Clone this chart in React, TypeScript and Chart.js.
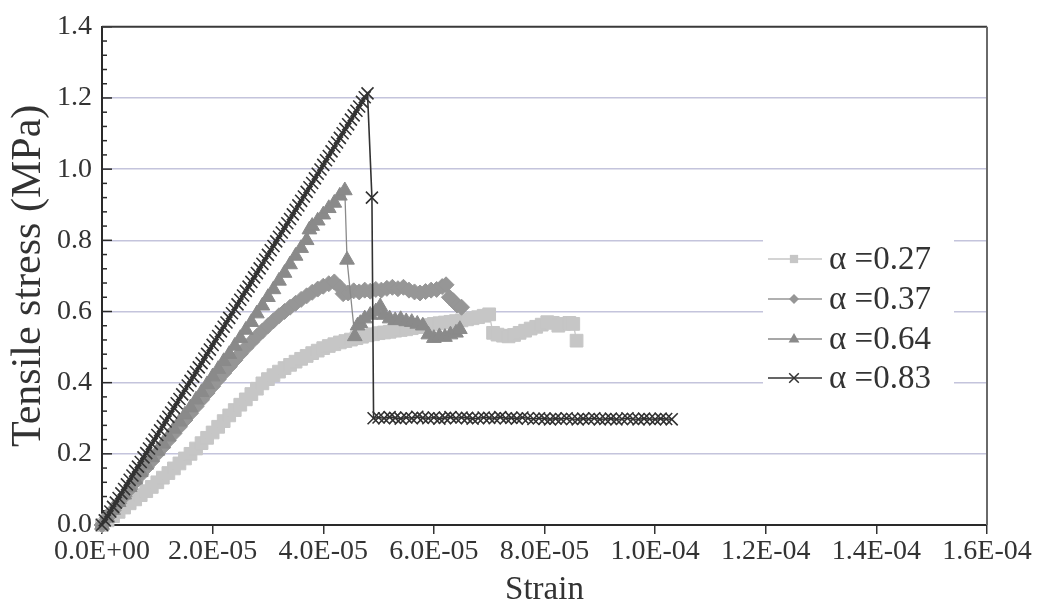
import React, { useEffect, useRef } from "react";
import { Chart, registerables } from "chart.js";
Chart.register(...registerables);

// ---- Data (strain in microstrain units, ×1e-6; stress in MPa) ----
const seriesLabels = ["α =0.27", "α =0.37", "α =0.64", "α =0.83"];

const strain027 = [
  0, 1, 2, 3, 4, 5, 6, 7, 8, 9, 10, 11, 12, 13, 14, 15, 16, 17, 18, 19, 20, 21, 22, 23, 24, 25, 26, 27, 28, 29,
  30, 31, 32, 33, 34, 35, 36, 37, 38, 39, 40, 41, 42, 43, 44, 45, 46, 47, 48, 49, 50, 51, 52, 53, 54, 55, 56, 57, 58, 59,
  60, 61, 62, 63, 64, 65, 66, 67, 68, 69, 70,
  70.7, 71.5, 72.5, 73.5, 74.5, 75.5, 76.5, 77.5, 78.5, 79.5, 80.5, 81.5, 82.5, 83.5, 84.5, 85.2, 85.8,
];
const stress027 = [
  0, 0.013, 0.025, 0.037, 0.049, 0.061, 0.072, 0.084, 0.095, 0.107,
  0.12, 0.133, 0.146, 0.159, 0.173, 0.187, 0.2, 0.215, 0.23, 0.245,
  0.26, 0.276, 0.292, 0.308, 0.323, 0.338, 0.353, 0.368, 0.383, 0.398,
  0.41, 0.421, 0.431, 0.441, 0.45, 0.459, 0.467, 0.475, 0.483, 0.49,
  0.497, 0.503, 0.508, 0.513, 0.517, 0.521, 0.525, 0.529, 0.533, 0.536,
  0.539, 0.541, 0.543, 0.546, 0.548, 0.55, 0.553, 0.556, 0.558, 0.562,
  0.565, 0.567, 0.569, 0.571, 0.573, 0.575, 0.578, 0.581, 0.584, 0.588,
  0.592,
  0.54, 0.535, 0.532, 0.53, 0.534, 0.54, 0.546, 0.552, 0.557, 0.563, 0.57, 0.568, 0.56, 0.565, 0.568, 0.565, 0.518,
];

const strain037 = [
  0, 1, 2, 3, 4, 5, 6, 7, 8, 9, 10, 11, 12, 13, 14, 15, 16, 17, 18, 19, 20, 21, 22, 23, 24, 25, 26, 27, 28, 29,
  30, 31, 32, 33, 34, 35, 36, 37, 38, 39, 40, 41, 42,
  43, 43.6,
  44.5, 45.5, 46.5, 47.5, 48.5, 49.5, 50.5, 51.5, 52.5, 53.5, 54.5, 55.5, 56.5, 57.5, 58.5, 59.5, 60.5, 61.5,
  62.2, 62.8, 63.5, 64.2, 65,
];
const stress037 = [
  0, 0.021, 0.041, 0.061, 0.081, 0.101, 0.121, 0.141, 0.161, 0.18,
  0.2, 0.219, 0.238, 0.257, 0.276, 0.295, 0.314, 0.333, 0.352, 0.371,
  0.39, 0.409, 0.427, 0.445, 0.463, 0.481, 0.498, 0.514, 0.53, 0.545,
  0.56, 0.574, 0.588, 0.6, 0.612, 0.623, 0.634, 0.644, 0.654, 0.663,
  0.671, 0.678, 0.683,
  0.668, 0.65,
  0.652, 0.658, 0.655, 0.66, 0.657, 0.662, 0.66, 0.665, 0.668, 0.664, 0.668, 0.66, 0.655, 0.652, 0.656, 0.66, 0.662, 0.67,
  0.675, 0.64, 0.63, 0.618, 0.612,
];

const strain064 = [
  0, 1, 2, 3, 4, 5, 6, 7, 8, 9, 10, 11, 12, 13, 14, 15, 16, 17, 18, 19, 20, 21, 22, 23, 24, 25, 26, 27, 28, 29,
  30, 31, 32, 33, 34, 35, 36, 37, 37.5, 38, 39, 40, 41, 42, 43, 43.9,
  44.3, 45.7, 46.2, 46.7, 47.5, 48.5, 49.5, 50.3,
  51, 52, 53, 54, 55, 56, 57, 58, 59, 60, 61, 62, 63, 64, 64.7,
];
const stress064 = [
  0, 0.02, 0.042, 0.064, 0.085, 0.106, 0.127, 0.148, 0.169, 0.19,
  0.208, 0.228, 0.248, 0.27, 0.29, 0.31, 0.33, 0.352, 0.373, 0.395,
  0.417, 0.438, 0.46, 0.48, 0.503, 0.525, 0.548, 0.57, 0.594, 0.616,
  0.64, 0.662, 0.686, 0.708, 0.732, 0.756, 0.778, 0.8, 0.83, 0.84, 0.855, 0.872, 0.89, 0.905, 0.925, 0.94,
  0.745, 0.53, 0.56, 0.567, 0.58, 0.59, 0.6, 0.614,
  0.59, 0.58, 0.575, 0.578, 0.572, 0.57, 0.565, 0.56, 0.535, 0.525, 0.53, 0.528, 0.535, 0.54, 0.55,
];

const strain083 = [
  0, 0.5, 1, 1.5, 2, 2.5, 3, 3.5, 4, 4.5, 5, 5.5, 6, 6.5, 7, 7.5, 8, 8.5, 9, 9.5,
  10, 10.5, 11, 11.5, 12, 12.5, 13, 13.5, 14, 14.5, 15, 15.5, 16, 16.5, 17, 17.5, 18, 18.5, 19, 19.5,
  20, 20.5, 21, 21.5, 22, 22.5, 23, 23.5, 24, 24.5, 25, 25.5, 26, 26.5, 27, 27.5, 28, 28.5, 29, 29.5,
  30, 30.5, 31, 31.5, 32, 32.5, 33, 33.5, 34, 34.5, 35, 35.5, 36, 36.5, 37, 37.5, 38, 38.5, 39, 39.5,
  40, 40.5, 41, 41.5, 42, 42.5, 43, 43.5, 44, 44.5, 45, 45.5, 46, 46.5, 47, 47.5, 48,
  48.8, 49.1,
  50, 51, 52, 53, 54, 55, 56, 57, 58, 59, 60, 61, 62, 63, 64, 65, 66, 67, 68, 69,
  70, 71, 72, 73, 74, 75, 76, 77, 78, 79, 80, 81, 82, 83, 84, 85, 86, 87, 88, 89,
  90, 91, 92, 93, 94, 95, 96, 97, 98, 99, 100, 101, 102, 103,
];
const stress083 = [
  0, 0.013, 0.025, 0.038, 0.051, 0.063, 0.076, 0.089, 0.101, 0.114, 0.127, 0.139, 0.152, 0.164, 0.177, 0.19, 0.202, 0.215, 0.228, 0.24,
  0.253, 0.266, 0.278, 0.291, 0.304, 0.316, 0.329, 0.342, 0.354, 0.367, 0.38, 0.392, 0.405, 0.417, 0.43, 0.443, 0.455, 0.468, 0.481, 0.493,
  0.506, 0.519, 0.531, 0.544, 0.557, 0.569, 0.582, 0.595, 0.607, 0.62, 0.633, 0.645, 0.658, 0.67, 0.683, 0.696, 0.708, 0.721, 0.734, 0.746,
  0.759, 0.772, 0.784, 0.797, 0.81, 0.822, 0.835, 0.848, 0.86, 0.873, 0.886, 0.898, 0.911, 0.923, 0.936, 0.949, 0.961, 0.974, 0.987, 0.999,
  1.012, 1.025, 1.037, 1.05, 1.063, 1.075, 1.088, 1.101, 1.113, 1.126, 1.139, 1.151, 1.164, 1.176, 1.189, 1.202, 1.213,
  0.92, 0.3,
  0.302, 0.3, 0.303, 0.301, 0.299, 0.302, 0.3, 0.304, 0.301, 0.3, 0.302, 0.299, 0.301, 0.303, 0.3, 0.302, 0.301, 0.299, 0.3, 0.302,
  0.301, 0.3, 0.303, 0.3, 0.301, 0.299, 0.302, 0.3, 0.298, 0.3, 0.299, 0.297, 0.299, 0.298, 0.3, 0.298, 0.297, 0.299, 0.298, 0.3,
  0.297, 0.298, 0.299, 0.297, 0.298, 0.3, 0.298, 0.297, 0.299, 0.298, 0.297, 0.299, 0.298, 0.297,
];

const xTickValues = [0, 2e-5, 4e-5, 6e-5, 8e-5, 1e-4, 1.2e-4, 1.4e-4, 1.6e-4];
const yTickValues = [0, 0.2, 0.4, 0.6, 0.8, 1.0, 1.2, 1.4];
const xTitle = "Strain";
const yTitle = "Tensile stress (MPa)";

// ---- helpers ----
const toPoints = (xs: number[], ys: number[]) => xs.map((x, i) => ({ x: x * 1e-6, y: ys[i] }));

function sci(v: number): string {
  if (Math.abs(v) < 1e-15) return "0.0E+00";
  let e = Math.floor(Math.log10(Math.abs(v)) + 1e-9);
  let m = Math.round((v / Math.pow(10, e)) * 10) / 10;
  if (m >= 10) { m /= 10; e += 1; }
  const ea = Math.abs(e);
  return m.toFixed(1) + "E" + (e < 0 ? "-" : "+") + (ea < 10 ? "0" : "") + ea;
}

const FONT = "'Liberation Serif', 'Times New Roman', serif";
const TEXT = "#333333";

const styles = [
  { color: "rgb(198,198,198)", point: "rect", radius: 9, legendR: 5.5 },
  { color: "rgb(150,150,150)", point: "rectRot", radius: 8, legendR: 5 },
  { color: "rgb(138,138,138)", point: "triangle", radius: 8.5, legendR: 6 },
  { color: "rgb(50,50,50)", point: "crossRot", radius: 8.5, legendR: 6 },
];

function drawMarker(ctx: CanvasRenderingContext2D, kind: string, x: number, y: number, r: number, color: string) {
  ctx.save();
  ctx.fillStyle = color;
  ctx.strokeStyle = color;
  ctx.lineWidth = 1.5;
  ctx.beginPath();
  if (kind === "rect") {
    ctx.rect(x - r * 0.75, y - r * 0.75, r * 1.5, r * 1.5);
    ctx.fill();
  } else if (kind === "rectRot") {
    ctx.moveTo(x, y - r);
    ctx.lineTo(x + r, y);
    ctx.lineTo(x, y + r);
    ctx.lineTo(x - r, y);
    ctx.closePath();
    ctx.fill();
  } else if (kind === "triangle") {
    ctx.moveTo(x, y - r);
    ctx.lineTo(x + r * 0.9, y + r * 0.6);
    ctx.lineTo(x - r * 0.9, y + r * 0.6);
    ctx.closePath();
    ctx.fill();
  } else {
    const d = r * 0.8;
    ctx.moveTo(x - d, y - d);
    ctx.lineTo(x + d, y + d);
    ctx.moveTo(x + d, y - d);
    ctx.lineTo(x - d, y + d);
    ctx.stroke();
  }
  ctx.restore();
}

const framePlugin = {
  id: "frame",
  beforeDatasetsDraw(chart: any) {
    const { ctx, chartArea } = chart;
    const ys = chart.scales.y;
    ctx.save();
    ctx.strokeStyle = "#2a2a2a";
    ctx.lineWidth = 1.5;
    // inward y ticks: majors every 0.2, minors every 0.04
    for (let i = 0; i <= 35; i++) {
      const v = i * 0.04;
      const py = ys.getPixelForValue(v);
      const len = i % 5 === 0 ? 10 : 5;
      ctx.beginPath();
      ctx.moveTo(chartArea.left, py);
      ctx.lineTo(chartArea.left + len, py);
      ctx.stroke();
    }
    ctx.restore();
  },
  afterDatasetsDraw(chart: any) {
    const { ctx, chartArea } = chart;
    ctx.save();
    // top and right frame
    ctx.strokeStyle = "#3a3a3a";
    ctx.lineWidth = 2;
    ctx.beginPath();
    ctx.moveTo(chartArea.left, chartArea.top);
    ctx.lineTo(chartArea.right, chartArea.top);
    ctx.stroke();
    ctx.strokeStyle = "#6a6a6a";
    ctx.beginPath();
    ctx.moveTo(chartArea.right, chartArea.top);
    ctx.lineTo(chartArea.right, chartArea.bottom);
    ctx.stroke();

    // legend
    ctx.fillStyle = "#ffffff";
    ctx.fillRect(763, 232, 191, 162);
    const rows = [259, 299, 339, 378];
    chart.data.datasets.forEach((ds: any, i: number) => {
      const y = rows[i];
      const st = styles[i];
      ctx.strokeStyle = st.color;
      ctx.lineWidth = 1.3;
      ctx.beginPath();
      ctx.moveTo(768, y);
      ctx.lineTo(822, y);
      ctx.stroke();
      drawMarker(ctx, st.point, 794, y, st.legendR, st.color);
      ctx.fillStyle = TEXT;
      ctx.font = `33px ${FONT}`;
      ctx.textBaseline = "middle";
      ctx.textAlign = "left";
      ctx.fillText(ds.label, 829, y + 1);
    });
    ctx.restore();
  },
};

export default function App() {
  const canvasRef = useRef<HTMLCanvasElement | null>(null);

  useEffect(() => {
    document.body.style.margin = "0";
    const canvas = canvasRef.current;
    if (!canvas) return;
    const series = [
      toPoints(strain027, stress027),
      toPoints(strain037, stress037),
      toPoints(strain064, stress064),
      toPoints(strain083, stress083),
    ];
    const datasets = series.map((data, i) => ({
      label: seriesLabels[i],
      data,
      showLine: true,
      borderColor: styles[i].color,
      backgroundColor: styles[i].color,
      borderWidth: i === 3 ? 1.6 : 1.3,
      pointStyle: styles[i].point,
      pointRadius: styles[i].radius,
      pointHoverRadius: styles[i].radius,
      pointBorderWidth: i === 3 ? 1.6 : 1,
      pointBackgroundColor: styles[i].color,
      pointBorderColor: styles[i].color,
      tension: 0,
      order: 3 - i,
      clip: 8,
    }));

    const chart = new Chart(canvas, {
      type: "line",
      data: { datasets },
      plugins: [framePlugin],
      options: {
        responsive: false,
        animation: false,
        layout: { padding: { top: 23, right: 54, left: 0, bottom: 0 } },
        plugins: { legend: { display: false }, tooltip: { enabled: false } },
        scales: {
          x: {
            type: "linear",
            min: 0,
            max: 1.6e-4,
            afterBuildTicks: (scale: any) => {
              scale.ticks = xTickValues.map((v) => ({ value: v }));
            },
            afterFit: (scale: any) => {
              scale.height = 88;
            },
            ticks: {
              callback: (v: any) => sci(Number(v)),
              font: { family: FONT, size: 28 },
              color: TEXT,
              padding: 1,
              maxRotation: 0,
              autoSkip: false,
            },
            grid: {
              drawOnChartArea: false,
              drawTicks: true,
              tickLength: 9,
              color: "#333333",
              lineWidth: 1.5,
            },
            border: { display: true, color: "#2a2a2a", width: 2 },
            title: {
              display: true,
              text: xTitle,
              font: { family: FONT, size: 33, lineHeight: 1 },
              color: TEXT,
              padding: { top: 0, bottom: 6 },
            },
          },
          y: {
            type: "linear",
            min: 0,
            max: 1.4,
            afterBuildTicks: (scale: any) => {
              scale.ticks = yTickValues.map((v) => ({ value: v }));
            },
            afterFit: (scale: any) => {
              scale.width = 102;
            },
            ticks: {
              callback: (v: any) => Number(v).toFixed(1),
              font: { family: FONT, size: 28 },
              color: TEXT,
              padding: 10,
            },
            grid: {
              drawTicks: false,
              color: (c: any) => {
                const v = c.tick ? c.tick.value : 0;
                return v < 0.01 || v > 1.39 ? "rgba(0,0,0,0)" : "#c4c4dc";
              },
              lineWidth: 1.5,
            },
            border: { display: true, color: "#2a2a2a", width: 2 },
            title: {
              display: true,
              text: yTitle,
              font: { family: FONT, size: 42, lineHeight: 1 },
              color: TEXT,
              padding: { top: 8, bottom: 0 },
            },
          },
        },
      },
    });
    return () => chart.destroy();
  }, []);

  return (
    <div style={{ position: "absolute", left: 0, top: 0, width: 1041, height: 613, background: "#fff" }}>
      <canvas ref={canvasRef} width={1041} height={613} />
    </div>
  );
}
